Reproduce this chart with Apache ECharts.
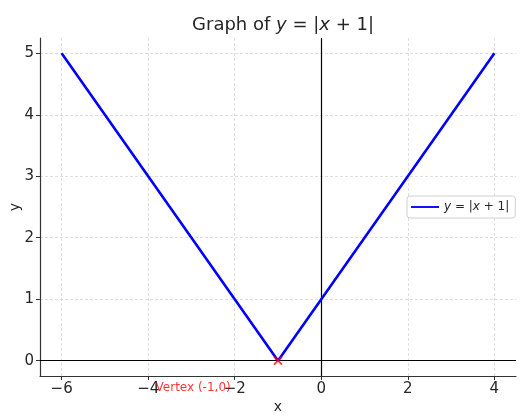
<!DOCTYPE html>
<html><head><meta charset="utf-8">
<script src="https://cdn.jsdelivr.net/npm/echarts@6/dist/echarts.min.js"></script>
<style>html,body{margin:0;padding:0;background:#fff}#c{width:526px;height:417px}</style>
</head><body><div id="c"></div>
<script>
const xValues = [-6, -5, -4, -3, -2, -1, 0, 1, 2, 3, 4];
const yValues = [5, 4, 3, 2, 1, 0, 1, 2, 3, 4, 5];
const xTicks = [-6, -4, -2, 0, 2, 4];
const yTicks = [0, 1, 2, 3, 4, 5];
const vertex = [-1, 0];
const vertexLabel = 'Vertex (-1,0)';
const vertexLabelPos = [-3.83, -0.44];
const xName = 'x';
const yName = 'y';

const chart = echarts.init(document.getElementById('c'));
const font = 'DejaVu Sans';
const txt = '#262626';
chart.setOption({
  animation: false,
  textStyle: { fontFamily: font },
  title: {
    text: 'Graph of {i|y} = |{i|x} + 1|',
    left: 278, textAlign: 'center', top: 11,
    textStyle: {
      fontFamily: font, fontSize: 18, fontWeight: 'normal', color: txt,
      rich: { i: { fontFamily: font, fontStyle: 'italic', fontSize: 18, color: txt } }
    }
  },
  graphic: [{
    type: 'text', x: 15, y: 207, rotation: Math.PI / 2,
    style: { text: yName, fill: txt, font: '14px "DejaVu Sans"', align: 'center', verticalAlign: 'middle' }
  }],
  grid: { left: 40, right: 10, top: 38, bottom: 41, outerBoundsMode: 'none', containLabel: false },
  legend: {
    left: 407, top: 196,
    data: ['line'],
    icon: 'path://M0,0L30,0L30,2L0,2Z',
    itemWidth: 28, itemHeight: 3,
    padding: [5, 6, 5, 4],
    borderColor: '#d0d0d0', borderWidth: 1, borderRadius: 3, backgroundColor: '#fff',
    formatter: () => '{i|y} = |{i|x} + 1|',
    textStyle: {
      fontFamily: font, fontSize: 12, color: txt,
      rich: { i: { fontFamily: font, fontStyle: 'italic', fontSize: 12, color: txt } }
    }
  },
  xAxis: {
    type: 'value', min: -6.5, max: 4.5,
    name: xName, nameLocation: 'middle', nameGap: 24, nameMoveOverlap: false,
    nameTextStyle: { fontSize: 14, color: txt, fontFamily: font },
    axisLine: { onZero: false, lineStyle: { color: '#333', width: 1.2 } },
    axisTick: { show: true, length: 4, customValues: xTicks, lineStyle: { color: '#333' } },
    axisLabel: { customValues: xTicks, fontSize: 15, color: txt, fontFamily: font, margin: 6,
      formatter: v => (v < 0 ? '\u2212' + Math.abs(v) : '' + v) },
    splitLine: { show: true, lineStyle: { type: [3, 2], color: '#d5d5d5', width: 0.8 } }
  },
  yAxis: {
    type: 'value', min: -0.25, max: 5.25,
    axisLine: { show: true, onZero: false, lineStyle: { color: '#333', width: 1.2 } },
    axisTick: { show: true, length: 4, customValues: yTicks, lineStyle: { color: '#333' } },
    axisLabel: { customValues: yTicks, fontSize: 15, color: txt, fontFamily: font, margin: 6 },
    splitLine: { show: true, lineStyle: { type: [3, 2], color: '#d5d5d5', width: 0.8 } }
  },
  series: [
    {
      name: 'line', type: 'line', data: xValues.map((x, i) => [x, yValues[i]]),
      showSymbol: false, symbol: 'none', color: '#0000ff',
      lineStyle: { color: '#0000ff', width: 2.6 }, z: 5,
      markLine: {
        silent: true, symbol: 'none', label: { show: false },
        lineStyle: { color: '#000', width: 1.2, type: 'solid' },
        data: [{ yAxis: 0 }, { xAxis: 0 }]
      }
    },
    {
      name: 'vertex', type: 'scatter', data: [vertex], z: 6,
      symbol: 'path://M0,0L10,10M10,0L0,10', symbolSize: 8,
      itemStyle: { color: 'none', borderColor: '#ff0000', borderWidth: 1.8 }
    },
    {
      name: 'vlabel', type: 'scatter', data: [vertexLabelPos], symbolSize: 0, clip: false, z: 7,
      label: { show: true, position: 'right', distance: 0, formatter: vertexLabel,
        color: '#ff0000', fontSize: 12, fontFamily: font }
    }
  ]
});
</script></body></html>
